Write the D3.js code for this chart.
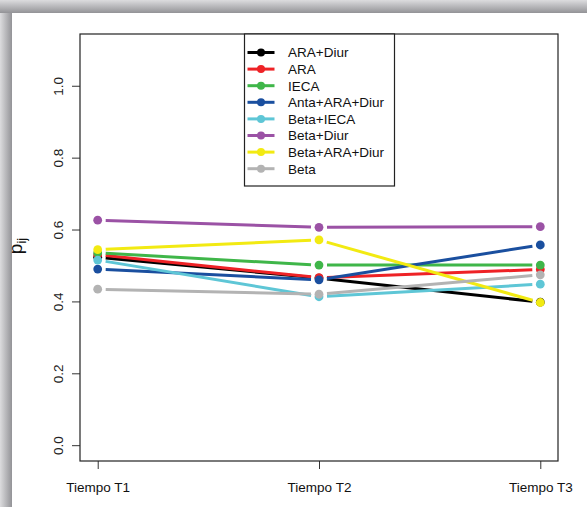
<!DOCTYPE html>
<html>
<head>
<meta charset="utf-8">
<script src="https://cdn.jsdelivr.net/npm/d3@7"></script>
<style>
  html, body { margin: 0; padding: 0; background: #fff; }
  svg { display: block; }
  text { font-family: "Liberation Sans", Arial, sans-serif; }
</style>
</head>
<body>
<svg id="chart" width="587" height="507"></svg>
<script>
// Time points on the x axis
const categories = ["Tiempo T1", "Tiempo T2", "Tiempo T3"];

// Treatment groups, in legend order
const seriesNames = ["ARA+Diur", "ARA", "IECA", "Anta+ARA+Diur", "Beta+IECA", "Beta+Diur", "Beta+ARA+Diur", "Beta"];
const seriesColors = ["#000000", "#ee2226", "#3fb649", "#1a4f9f", "#5ec6d6", "#9b52a5", "#f2ea12", "#b3b3b3"];

// p_ij at each time point
const araDiur     = [0.523, 0.465, 0.398];
const ara         = [0.530, 0.466, 0.489];
const ieca        = [0.535, 0.501, 0.501];
const antaAraDiur = [0.490, 0.460, 0.557];
const betaIeca    = [0.515, 0.413, 0.448];
const betaDiur    = [0.626, 0.606, 0.608];
const betaAraDiur = [0.544, 0.571, 0.397];
const beta        = [0.434, 0.420, 0.474];
const seriesValues = [araDiur, ara, ieca, antaAraDiur, betaIeca, betaDiur, betaAraDiur, beta];

const yTicks = [0, 0.2, 0.4, 0.6, 0.8, 1.0];

(function draw() {
  const svg = d3.select("#chart");
  const W = 587, H = 507;

  // Page frame with a soft grey shadow along the top and left
  const defs = svg.append("defs");
  const gl = defs.append("linearGradient").attr("id", "shL").attr("x1", 0).attr("x2", 1).attr("y1", 0).attr("y2", 0);
  gl.append("stop").attr("offset", "0%").attr("stop-color", "#dcdcde");
  gl.append("stop").attr("offset", "100%").attr("stop-color", "#939397");
  const gt = defs.append("linearGradient").attr("id", "shT").attr("x1", 0).attr("x2", 0).attr("y1", 0).attr("y2", 1);
  gt.append("stop").attr("offset", "0%").attr("stop-color", "#dcdcde");
  gt.append("stop").attr("offset", "100%").attr("stop-color", "#939397");
  svg.append("rect").attr("x", 0).attr("y", 0).attr("width", W).attr("height", H).attr("fill", "#a2a2a6");
  svg.append("rect").attr("x", 0).attr("y", 0).attr("width", 12).attr("height", H).attr("fill", "url(#shL)");
  svg.append("rect").attr("x", 0).attr("y", 0).attr("width", W).attr("height", 13).attr("fill", "url(#shT)");
  svg.append("rect").attr("x", 12).attr("y", 13).attr("width", W).attr("height", H).attr("fill", "#ffffff");

  // Plot region
  const pl = 80, pr = 558, pt = 34, pb = 461;

  const x = d3.scaleLinear().domain([0.92, 3.08]).range([pl, pr]);
  const y = d3.scaleLinear().domain([-0.044, 1.144]).range([pb, pt]);

  // Y axis
  const yAxis = svg.append("g")
    .attr("transform", `translate(${pl},0)`)
    .call(d3.axisLeft(y).tickValues(yTicks).tickSize(8).tickFormat(d3.format(".1f")));
  yAxis.select(".domain").remove();
  yAxis.selectAll(".tick line").attr("stroke", "#333");
  yAxis.selectAll(".tick text")
    .attr("x", null).attr("dy", null)
    .attr("transform", "translate(-17,0) rotate(-90)")
    .attr("text-anchor", "middle")
    .attr("fill", "#222")
    .style("font-size", "13.5px");

  // X axis
  const xAxis = svg.append("g")
    .attr("transform", `translate(0,${pb})`)
    .call(d3.axisBottom(x).tickValues([1, 2, 3]).tickSize(8).tickFormat((d, i) => categories[i]));
  xAxis.select(".domain").remove();
  xAxis.selectAll(".tick line").attr("stroke", "#333");
  xAxis.selectAll(".tick text")
    .attr("y", 26).attr("dy", "0.35em")
    .attr("fill", "#111")
    .style("font-size", "13.5px");

  // Y axis title: p with subscript ij
  const yTitle = svg.append("text")
    .attr("transform", "translate(22,246) rotate(-90)")
    .attr("text-anchor", "middle")
    .attr("fill", "#111")
    .style("font-size", "19px");
  yTitle.append("tspan").text("p");
  yTitle.append("tspan").attr("dy", 4).style("font-size", "13px").text("ij");

  // Lines with gaps around each point (R "b" style)
  const gap = 8;
  const plot = svg.append("g");
  seriesValues.forEach((vals, s) => {
    const pts = vals.map((v, i) => [x(i + 1), y(v)]);
    for (let i = 0; i < pts.length - 1; i++) {
      const [x0, y0] = pts[i], [x1, y1] = pts[i + 1];
      const len = Math.hypot(x1 - x0, y1 - y0);
      const ux = (x1 - x0) / len, uy = (y1 - y0) / len;
      plot.append("line")
        .attr("x1", x0 + ux * gap).attr("y1", y0 + uy * gap)
        .attr("x2", x1 - ux * gap).attr("y2", y1 - uy * gap)
        .attr("stroke", seriesColors[s]).attr("stroke-width", 3);
    }
    plot.selectAll(null).data(vals).enter().append("circle")
      .attr("cx", (d, i) => x(i + 1)).attr("cy", d => y(d))
      .attr("r", 4.4).attr("fill", seriesColors[s]);
  });

  // Plot box
  svg.append("rect")
    .attr("x", pl).attr("y", pt).attr("width", pr - pl).attr("height", pb - pt)
    .attr("fill", "none").attr("stroke", "#222").attr("stroke-width", 1.2);

  // Legend
  const lgX = 244.5, lgY = 34, lgW = 150, rowH = 16.6;
  const lg = svg.append("g");
  lg.append("rect").attr("x", lgX).attr("y", lgY).attr("width", lgW).attr("height", 152)
    .attr("fill", "#fff").attr("stroke", "#222").attr("stroke-width", 1.2);
  seriesNames.forEach((name, i) => {
    const cy = lgY + 18.5 + i * rowH;
    lg.append("line").attr("x1", lgX + 3).attr("x2", lgX + 30).attr("y1", cy).attr("y2", cy)
      .attr("stroke", seriesColors[i]).attr("stroke-width", 3);
    lg.append("circle").attr("cx", lgX + 16.5).attr("cy", cy).attr("r", 4).attr("fill", seriesColors[i]);
    lg.append("text").attr("x", lgX + 43.5).attr("y", cy).attr("dy", "0.36em")
      .attr("fill", "#111").style("font-size", "13.5px").text(name);
  });
})();
</script>
</body>
</html>
